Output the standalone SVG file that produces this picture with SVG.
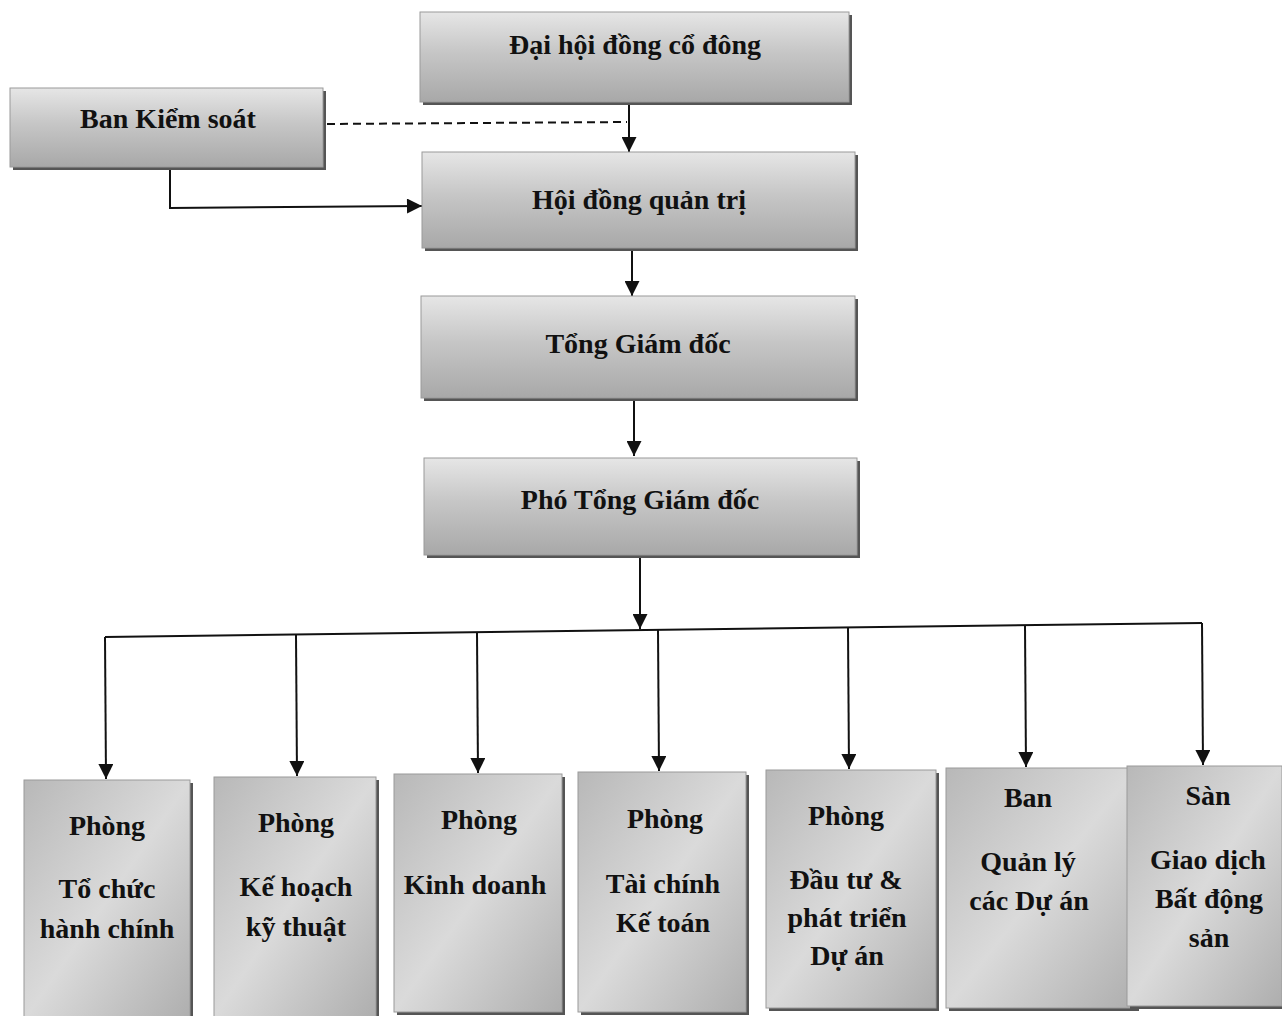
<svg xmlns="http://www.w3.org/2000/svg" width="1282" height="1016" viewBox="0 0 1282 1016">
<defs>
<linearGradient id="gH" x1="0" y1="0" x2="0" y2="1">
<stop offset="0" stop-color="#e6e6e6"/>
<stop offset="0.45" stop-color="#c6c6c6"/>
<stop offset="1" stop-color="#a8a8a8"/>
</linearGradient>
<linearGradient id="gV" x1="0" y1="0" x2="1" y2="1">
<stop offset="0" stop-color="#b8b8b8"/>
<stop offset="0.5" stop-color="#dadada"/>
<stop offset="1" stop-color="#aeaeae"/>
</linearGradient>
<marker id="ah" viewBox="0 0 10 10" refX="10" refY="5" markerWidth="16" markerHeight="15" markerUnits="userSpaceOnUse" orient="auto">
<path d="M0,0 L10,5 L0,10 Z" fill="#111"/>
</marker>
</defs>
<style>
.box{fill:url(#gH);stroke:#9a9a9a;stroke-width:1}
.vbox{fill:url(#gV);stroke:#9a9a9a;stroke-width:1}
.sh{fill:#555}
.t{font-family:"Liberation Serif","Times New Roman",serif;font-weight:bold;font-size:28px;fill:#111;text-anchor:middle}
.c{stroke:#111;stroke-width:2;fill:none}
.d{stroke:#111;stroke-width:2;fill:none;stroke-dasharray:8,5}
</style>
<rect width="1282" height="1016" fill="#ffffff"/>

<g id="connectors">
<line class="c" x1="629" y1="102" x2="629" y2="152" marker-end="url(#ah)"/>
<line class="d" x1="327" y1="124" x2="627" y2="122"/>
<polyline class="c" points="170,167 170,208 422,206" marker-end="url(#ah)"/>
<line class="c" x1="632" y1="248" x2="632" y2="296" marker-end="url(#ah)"/>
<line class="c" x1="634" y1="398" x2="634" y2="456" marker-end="url(#ah)"/>
<line class="c" x1="640" y1="555" x2="640" y2="629" marker-end="url(#ah)"/>
<polyline class="c" points="105,637 1202,623"/>
<line class="c" x1="105" y1="637" x2="106" y2="779" marker-end="url(#ah)"/>
<line class="c" x1="296" y1="635" x2="297" y2="776" marker-end="url(#ah)"/>
<line class="c" x1="477" y1="633" x2="478" y2="773" marker-end="url(#ah)"/>
<line class="c" x1="658" y1="630" x2="659" y2="771" marker-end="url(#ah)"/>
<line class="c" x1="848" y1="628" x2="849" y2="769" marker-end="url(#ah)"/>
<line class="c" x1="1025" y1="626" x2="1026" y2="767" marker-end="url(#ah)"/>
<line class="c" x1="1202" y1="623" x2="1203" y2="765" marker-end="url(#ah)"/>
</g>

<g id="n-daihoi">
<rect class="sh" x="423" y="15" width="429" height="90"/>
<rect class="box" x="420" y="12" width="429" height="90"/>
<text class="t" x="635" y="54">Đại hội đồng cổ đông</text>
</g>
<g id="n-bankiemsoat">
<rect class="sh" x="13" y="91" width="313" height="79"/>
<rect class="box" x="10" y="88" width="313" height="79"/>
<text class="t" x="168" y="128">Ban Kiểm soát</text>
</g>
<g id="n-hdqt">
<rect class="sh" x="425" y="155" width="433" height="96"/>
<rect class="box" x="422" y="152" width="433" height="96"/>
<text class="t" x="639" y="209">Hội đồng quản trị</text>
</g>
<g id="n-tgd">
<rect class="sh" x="424" y="299" width="434" height="102"/>
<rect class="box" x="421" y="296" width="434" height="102"/>
<text class="t" x="638" y="353">Tổng Giám đốc</text>
</g>
<g id="n-ptgd">
<rect class="sh" x="427" y="461" width="433" height="97"/>
<rect class="box" x="424" y="458" width="433" height="97"/>
<text class="t" x="640" y="509">Phó Tổng Giám đốc</text>
</g>

<g id="n-tochuc">
<rect class="sh" x="27" y="783" width="166" height="240"/>
<rect class="vbox" x="24" y="780" width="166" height="240"/>
<text class="t" x="107" y="835">Phòng</text>
<text class="t" x="107" y="898">Tổ chức</text>
<text class="t" x="107" y="938">hành chính</text>
</g>
<g id="n-kehoach">
<rect class="sh" x="217" y="780" width="162" height="240"/>
<rect class="vbox" x="214" y="777" width="162" height="240"/>
<text class="t" x="296" y="832">Phòng</text>
<text class="t" x="296" y="896">Kế hoạch</text>
<text class="t" x="296" y="936">kỹ thuật</text>
</g>
<g id="n-kinhdoanh">
<rect class="sh" x="397" y="777" width="168" height="238"/>
<rect class="vbox" x="394" y="774" width="168" height="238"/>
<text class="t" x="479" y="829">Phòng</text>
<text class="t" x="475" y="894">Kinh doanh</text>
</g>
<g id="n-taichinh">
<rect class="sh" x="581" y="775" width="168" height="240"/>
<rect class="vbox" x="578" y="772" width="168" height="240"/>
<text class="t" x="665" y="828">Phòng</text>
<text class="t" x="663" y="893">Tài chính</text>
<text class="t" x="663" y="932">Kế toán</text>
</g>
<g id="n-dautu">
<rect class="sh" x="769" y="773" width="170" height="238"/>
<rect class="vbox" x="766" y="770" width="170" height="238"/>
<text class="t" x="846" y="825">Phòng</text>
<text class="t" x="846" y="889">Đầu tư &amp;</text>
<text class="t" x="847" y="927">phát triển</text>
<text class="t" x="847" y="965">Dự án</text>
</g>
<g id="n-quanly">
<rect class="sh" x="949" y="771" width="190" height="240"/>
<rect class="vbox" x="946" y="768" width="190" height="240"/>
<text class="t" x="1028" y="807">Ban</text>
<text class="t" x="1028" y="871">Quản lý</text>
<text class="t" x="1029" y="910">các Dự án</text>
</g>
<g id="n-san">
<rect class="sh" x="1130" y="769" width="155" height="240"/>
<rect class="vbox" x="1127" y="766" width="155" height="240"/>
<text class="t" x="1208" y="805">Sàn</text>
<text class="t" x="1208" y="869">Giao dịch</text>
<text class="t" x="1209" y="908">Bất động</text>
<text class="t" x="1209" y="947">sản</text>
</g>
</svg>
